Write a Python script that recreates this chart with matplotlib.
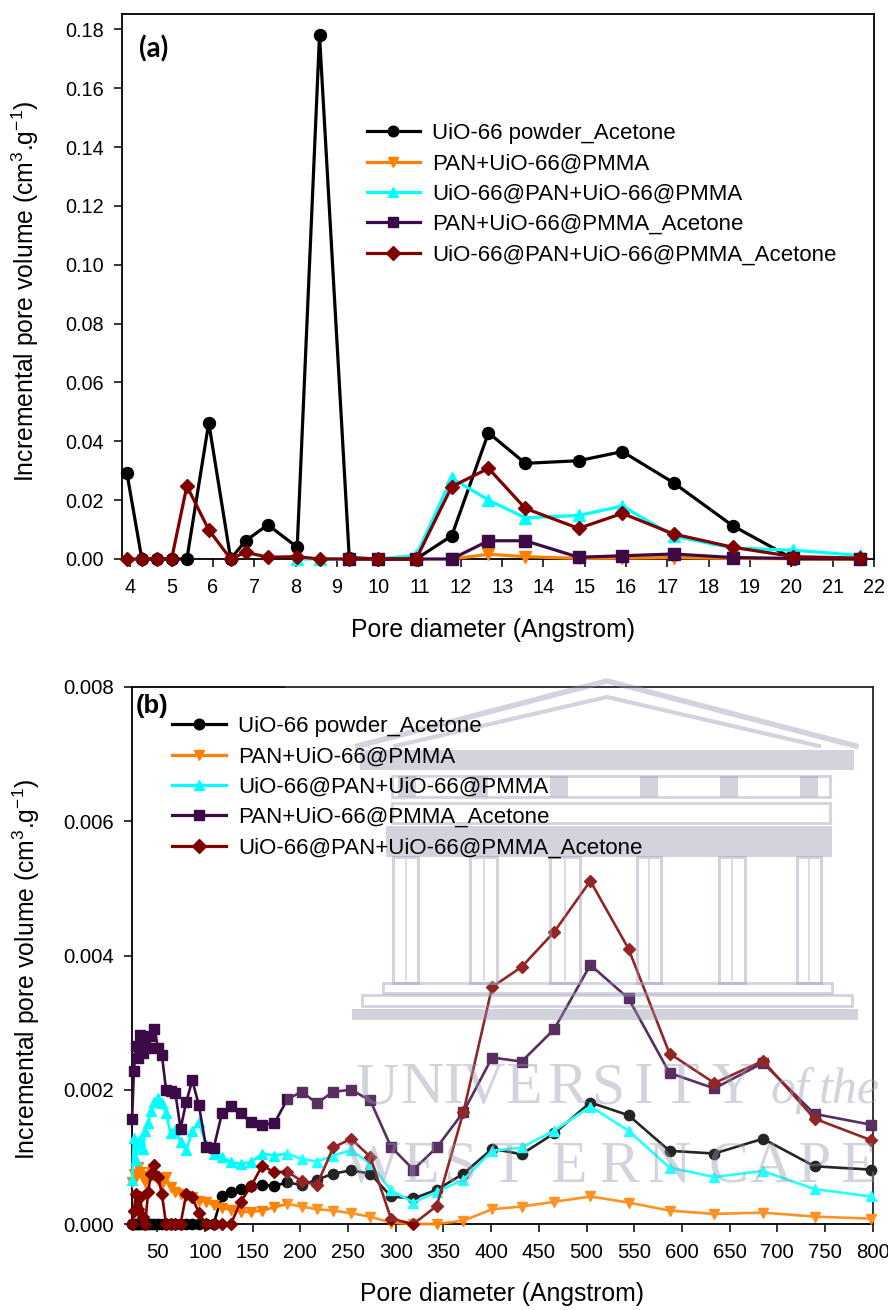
import matplotlib
matplotlib.use("Agg")
import matplotlib.pyplot as plt
from matplotlib.patches import Rectangle
from matplotlib.lines import Line2D
from matplotlib.ticker import FormatStrFormatter
import numpy as np

plt.rcParams['font.family'] = ['Liberation Sans', 'DejaVu Sans']
plt.rcParams['mathtext.fontset'] = 'custom'
plt.rcParams['mathtext.rm'] = 'Liberation Sans'
plt.rcParams['mathtext.it'] = 'Liberation Sans:italic'
plt.rcParams['mathtext.bf'] = 'Liberation Sans:bold'

W, H = 888, 1310

# ---------------- series definitions ----------------
labels = ['UiO-66 powder_Acetone', 'PAN+UiO-66@PMMA', 'UiO-66@PAN+UiO-66@PMMA',
          'PAN+UiO-66@PMMA_Acetone', 'UiO-66@PAN+UiO-66@PMMA_Acetone']
colors = ['#000000', '#ff8000', '#00ffff', '#3c0a46', '#800000']
markers = ['o', 'v', '^', 's', 'D']

# ---------------- panel (a): micropore region ----------------
a_diam = [3.92, 4.28, 4.65, 5.0, 5.37, 5.9, 6.43, 6.79, 7.33, 8.04, 8.58, 9.3,
          10.0, 10.92, 11.78, 12.67, 13.56, 14.85, 15.91, 17.15, 18.58, 20.05, 21.65]
a_uio_powder = [0.0291, 0.0, 0.0, 0.0, 0.0, 0.0463, 0.0, 0.0062, 0.0116, 0.0040, 0.178,
                0.0005, 0.0, 0.0, 0.0079, 0.0429, 0.0325, 0.0334, 0.0365, 0.0259, 0.0113,
                0.0, 0.0]
a_pan_pmma = [0.0, 0.0016, 0.0008, 0.0002, 0.0003, 0.0005, 0.0002, 0.0001, 0.0]          # from 11.78
a_uio_pan_pmma = [0.0, 0.0, 0.0, 0.0, 0.0012, 0.0275, 0.0200, 0.0140, 0.0148, 0.0180,
                  0.0078, 0.0037, 0.0030, 0.0012]                                        # from 8.04
a_pan_pmma_ac = [0.0, 0.0, 0.0, 0.0, 0.0062, 0.0062, 0.0006, 0.0011, 0.0017, 0.0005,
                 0.0002, 0.0001]                                                         # from 9.3
a_uio_pan_pmma_ac = [0.0, 0.0, 0.0, 0.0, 0.0248, 0.0099, 0.0, 0.0023, 0.0006, 0.0008, 0.0,
                     0.0, 0.0, 0.0, 0.0246, 0.0308, 0.0172, 0.0104, 0.0155, 0.0085, 0.0040,
                     0.0008, 0.0003]

# ---------------- panel (b): mesopore region ----------------
b_diam = [23.6, 25.5, 27.5, 29.7, 32.1, 34.6, 37.4, 40.4, 43.6, 47.0,
          50.8, 54.8, 59.2, 63.9, 69.0, 74.4, 80.4, 86.7, 93.6, 101.1,
          109.1, 117.8, 127.2, 137.3, 148.2, 160.0, 172.7, 186.4, 201.3, 217.3,
          234.5, 253.2, 273.3, 295.0, 318.5, 343.0, 371.0, 401.0, 432.0, 466.0,
          504.0, 544.0, 587.0, 634.0, 685.0, 739.0, 798.0]
b_uio_powder = [0.0, 0.0, 0.0, 0.0, 0.0, 0.0, 0.0, 0.0, 0.0, 0.0,
                0.0, 0.0, 0.0, 0.0, 0.0, 0.0, 0.0, 0.0, 0.0, 0.0,
                0.0, 0.00042, 0.00048, 0.00052, 0.00056, 0.00058, 0.00057, 0.00062, 0.00058, 0.00066,
                0.00075, 0.0008, 0.00075, 0.00041, 0.00038, 0.00051, 0.00075, 0.00112, 0.00104, 0.00135,
                0.00181, 0.00162, 0.00109, 0.00105, 0.00127, 0.00086, 0.00081]
b_pan_pmma = [0.00062, 0.00075, 0.0007, 0.00085, 0.00078, 0.00068, 0.00062, 0.00072, 0.00078, 0.00072,
              0.00065, 0.0006, 0.0007, 0.00055, 0.00048, 0.00045, 0.00042, 0.0004, 0.00035, 0.00033,
              0.00028, 0.00024, 0.00021, 0.00018, 0.00018, 0.0002, 0.00025, 0.0003, 0.00026, 0.00022,
              0.0002, 0.00016, 0.00011, 0.00002, 0.0, 0.0, 0.00005, 0.00022, 0.00026, 0.00033,
              0.00041, 0.00032, 0.0002, 0.00015, 0.00017, 0.00011, 0.00008]
b_uio_pan_pmma = [0.00065, 0.00128, 0.00095, 0.00118, 0.00125, 0.00112, 0.00138, 0.0015, 0.00168, 0.00182,
                  0.00188, 0.0018, 0.00165, 0.00135, 0.0014, 0.00122, 0.0011, 0.00138, 0.00152, 0.00118,
                  0.00105, 0.001, 0.00092, 0.0009, 0.00092, 0.00105, 0.00102, 0.00105, 0.00097, 0.00093,
                  0.00102, 0.0011, 0.0009, 0.0005, 0.00032, 0.00048, 0.00066, 0.00109, 0.00114, 0.00139,
                  0.00175, 0.00139, 0.00084, 0.0007, 0.00079, 0.00052, 0.00041]
b_pan_pmma_ac = [0.00157, 0.00228, 0.00265, 0.00248, 0.00282, 0.00255, 0.00275, 0.00262, 0.0028, 0.00291,
                 0.00262, 0.00252, 0.002, 0.00198, 0.00195, 0.00142, 0.00182, 0.00214, 0.00177, 0.00115,
                 0.00113, 0.00165, 0.00176, 0.00165, 0.00152, 0.00148, 0.0015, 0.00186, 0.00197, 0.0018,
                 0.00197, 0.002, 0.00184, 0.00115, 0.00081, 0.00114, 0.00167, 0.00248, 0.00242, 0.0029,
                 0.00386, 0.00336, 0.00225, 0.00202, 0.0024, 0.00164, 0.00148]
b_uio_pan_pmma_ac = [0.0, 0.0002, 0.00045, 0.00022, 0.0004, 0.0001, 0.0, 0.00048, 0.00075, 0.00088,
                     0.0007, 0.00045, 0.0, 0.0, 0.0, 0.0, 0.00045, 0.0004, 0.00016, 0.0,
                     0.0, 0.0, 0.0, 0.00033, 0.00056, 0.00087, 0.00077, 0.00078, 0.00064, 0.00058,
                     0.00114, 0.00127, 0.001, 0.00008, 0.0, 0.00027, 0.00167, 0.00353, 0.00383, 0.00435,
                     0.00511, 0.0041, 0.00254, 0.0021, 0.00243, 0.00157, 0.00125]

a_xticks = list(range(4, 23))
a_yticks = [0.00, 0.02, 0.04, 0.06, 0.08, 0.10, 0.12, 0.14, 0.16, 0.18]
b_xticks = [50, 100, 150, 200, 250, 300, 350, 400, 450, 500, 550, 600, 650, 700, 750, 800]
b_yticks = [0.000, 0.002, 0.004, 0.006, 0.008]

# ---------------- figure ----------------
fig = plt.figure(figsize=(W / 100, H / 100), dpi=100)


def fx(x):
    return x / W


def fy(y):
    return 1 - y / H


axA = fig.add_axes([fx(122), fy(559), (874 - 122) / W, (559 - 14) / H])
axB = fig.add_axes([fx(132), fy(1224), (872.7 - 132) / W, (1224 - 687) / H])


def style_axes(ax, tick_fs):
    for s in ax.spines.values():
        s.set_linewidth(1.3)
    ax.tick_params(direction='out', length=6, width=1.1, labelsize=tick_fs,
                   top=False, right=False)
    ax.tick_params(axis='y', pad=7)
    ax.tick_params(axis='x', pad=8)


LABEL_FS = 17.8

# panel (a)
a_sets = [
    (a_diam, a_uio_powder),
    (a_diam[14:], a_pan_pmma),
    (a_diam[9:], a_uio_pan_pmma),
    (a_diam[11:], a_pan_pmma_ac),
    (a_diam, a_uio_pan_pmma_ac),
]
for (xs, ys), c, m in zip(a_sets, colors, markers):
    ms = 7.6 if m == 'D' else 8.6
    axA.plot(xs, ys, color=c, marker=m, ms=ms, mec=c, mfc=c, lw=2.3,
             clip_on=False, zorder=3)
axA.set_xlim(3.8, 22)
axA.set_ylim(0, 0.1852)
axA.set_xticks(a_xticks)
axA.set_yticks(a_yticks)
axA.yaxis.set_major_formatter(FormatStrFormatter('%.2f'))
style_axes(axA, 14.3)
axA.set_ylabel('Incremental pore volume (cm$^3$.g$^{-1}$)', fontsize=LABEL_FS)
axA.set_xlabel('Pore diameter (Angstrom)', fontsize=LABEL_FS)
axA.yaxis.set_label_coords(-0.108, 0.491)
axA.xaxis.set_label_coords(0.493, -0.108)
fig.text(fx(139), fy(49), '(a)', fontsize=20, fontweight='bold',
         family=['Lato', 'DejaVu Sans'], ha='left', va='center')

# panel (b)
b_sets = [b_uio_powder, b_pan_pmma, b_uio_pan_pmma, b_pan_pmma_ac, b_uio_pan_pmma_ac]
for ys, c, m in zip(b_sets, colors, markers):
    ms = 6.6 if m == 'D' else 7.4
    axB.plot(b_diam, ys, color=c, marker=m, ms=ms, mec=c, mfc=c, lw=1.9,
             clip_on=False, zorder=3)
axB.set_xlim(23.5, 800)
axB.set_ylim(0, 0.008)
axB.set_xticks(b_xticks)
axB.set_yticks(b_yticks)
axB.yaxis.set_major_formatter(FormatStrFormatter('%.3f'))
style_axes(axB, 14.7)
axB.set_ylabel('Incremental pore volume (cm$^3$.g$^{-1}$)', fontsize=LABEL_FS)
axB.set_xlabel('Pore diameter (Angstrom)', fontsize=LABEL_FS)
axB.yaxis.set_label_coords(-0.1215, 0.475)
axB.xaxis.set_label_coords(0.4995, -0.108)
fig.text(fx(136), fy(706), '(b)', fontsize=18.5, fontweight='bold',
         ha='left', va='center')

# legends
handles = [Line2D([], [], color=c, marker=m, ms=(6.8 if m == 'D' else 7.6),
                  mec=c, mfc=c, lw=2.3) for c, m in zip(colors, markers)]
legA = axA.legend(handles, labels, loc='upper left',
                  bbox_to_anchor=(fx(366.7), fy(123)), bbox_transform=fig.transFigure,
                  frameon=False, borderpad=0, borderaxespad=0, handlelength=2.4,
                  handletextpad=0.55, labelspacing=0.42, fontsize=16, numpoints=1)

# ---------------- watermark over panel (b) ----------------
WM = (0.59, 0.59, 0.69)
WA = 0.42

# light haze where the watermark image sits
fig.add_artist(Rectangle((fx(285), fy(1222)), (888 - 285) / W, (1222 - 680) / H,
                         transform=fig.transFigure, facecolor='white', alpha=0.15,
                         edgecolor='none', zorder=4))


def wm_rect(x0, y0, x1, y1, fill=True, lw=0.0):
    fig.add_artist(Rectangle((fx(x0), fy(y1)), (x1 - x0) / W, (y1 - y0) / H,
                             transform=fig.transFigure,
                             facecolor=WM if fill else 'none',
                             edgecolor=WM if lw else 'none', linewidth=lw,
                             alpha=WA, zorder=5))


def wm_line(xs, ys, lw):
    fig.add_artist(Line2D([fx(v) for v in xs], [fy(v) for v in ys],
                          transform=fig.transFigure, color=WM, alpha=WA,
                          linewidth=lw, zorder=5, solid_joinstyle='miter'))


# pediment
wm_line([358, 607, 856], [746, 681, 746], 4.0)
wm_line([395, 607, 819], [746, 697, 746], 3.0)
# entablature bands
wm_rect(360, 750, 854, 770)
wm_rect(392, 776, 830, 797, fill=False, lw=2.0)
for xb in [398, 470, 550, 640, 720, 800]:
    wm_rect(xb, 776, xb + 18, 797)
wm_rect(392, 803, 830, 823, fill=False, lw=2.0)
wm_rect(386, 826, 832, 857)
# columns
for x0, x1 in [(393, 418), (470, 497), (550, 580), (637, 661), (719, 745), (797, 821)]:
    wm_rect(x0, 857, x1, 983, fill=False, lw=2.2)
    wm_line([(x0 + x1) / 2, (x0 + x1) / 2], [860, 980], 1.2)
# base steps
wm_rect(383, 983, 832, 993, fill=False, lw=2.0)
wm_rect(362, 995, 852, 1006, fill=False, lw=2.0)
wm_rect(352, 1009, 858, 1020)

# lettering
row1 = [('U', 377), ('N', 422), ('I', 454), ('V', 483), ('E', 523), ('R', 567),
        ('S', 609), ('I', 644), ('T', 681), ('Y', 733)]
row2 = [('W', 372), ('E', 420), ('S', 461), ('T', 509), ('E', 569), ('R', 619),
        ('N', 669), ('C', 728), ('A', 771), ('P', 814), ('E', 858)]
for ch, xc in row1:
    fig.text(fx(xc), fy(1103), ch, fontsize=43, family='Liberation Serif',
             color=WM, alpha=WA, ha='center', va='baseline', zorder=5)
fig.text(fx(790), fy(1103), 'of', fontsize=36, family='Liberation Serif',
         style='italic', color=WM, alpha=WA, ha='center', va='baseline', zorder=5)
fig.text(fx(849), fy(1103), 'the', fontsize=36, family='Liberation Serif',
         style='italic', color=WM, alpha=WA, ha='center', va='baseline', zorder=5)
for ch, xc in row2:
    fig.text(fx(xc), fy(1182), ch, fontsize=43, family='Liberation Serif',
             color=WM, alpha=WA, ha='center', va='baseline', zorder=5)

# legend (b) sits above the watermark
legB = fig.legend(handles, labels, loc='upper left',
                  bbox_to_anchor=(fx(172.3), fy(716)), bbox_transform=fig.transFigure,
                  frameon=False, borderpad=0, borderaxespad=0, handlelength=2.4,
                  handletextpad=0.55, labelspacing=0.42, fontsize=16, numpoints=1)
legB.set_zorder(10)

fig.savefig('out.png', dpi=100)
